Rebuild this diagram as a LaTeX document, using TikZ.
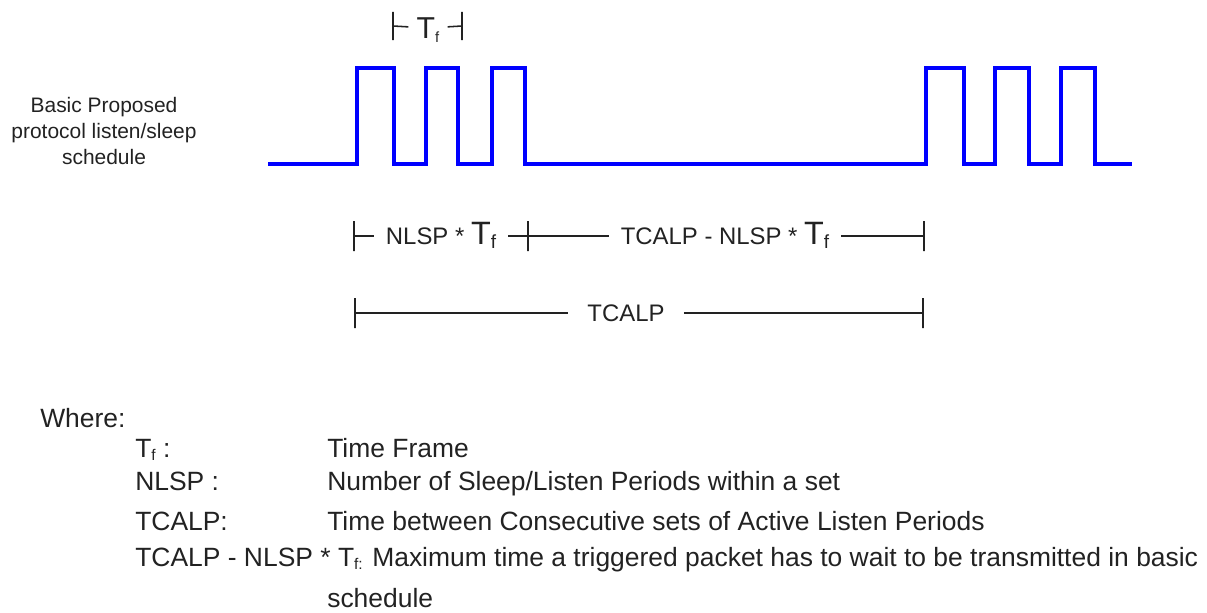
\documentclass[tikz,border=0pt]{standalone}
\usepackage{fontspec}
\setmainfont{Liberation Sans}
\definecolor{pulseblue}{HTML}{0000FF}
\definecolor{ink}{HTML}{222222}
\newcommand{\tsub}[3]{{\fontsize{#1}{#1}\selectfont T}\raisebox{-0.15em}{\fontsize{#2}{#2}\selectfont #3}}

\begin{document}
\begin{tikzpicture}[x=0.025cm,y=-0.025cm,
  pulse/.style={draw=pulseblue,line width=2.3pt},
  tickmark/.style={draw=ink,line width=1.5pt,minimum width=0pt,minimum height=0.75cm,inner sep=0pt},
  span/.style={draw=ink,line width=1.1pt},
  dim/.style={text=ink,inner ysep=0pt,inner xsep=0.3cm,text height=12pt,text depth=0pt,font=\fontsize{17}{20}\selectfont},
  legend/.style={text=ink,inner sep=0pt,anchor=base west,font=\fontsize{18.8}{22}\selectfont}]
\useasboundingbox (0,0) rectangle (1207,612);
\node[text=ink,align=center,font=\fontsize{14.9}{18.5}\selectfont] (sched) at (104,131) {Basic Proposed\\protocol listen/sleep\\schedule};
\draw[pulse] (268,164) \foreach \a/\b in {357/394,426/458,492/525,926/964,995/1029,1061/1095} { -- (\a,164) -- (\a,68) -- (\b,68) -- (\b,164) } -- (1132,164);
\node[tickmark,minimum height=0.7cm] (tfl) at (393,26) {};
\node[tickmark,minimum height=0.7cm] (tfr) at (462,26) {};
\node[dim,inner xsep=0.2cm,text height=15pt] (tf) at (428,28) {\tsub{21.5}{10.5}{f}};
\draw[span] (tfl) -- (tf);
\draw[span] (tf) -- (tfr);
\node[tickmark] (r1l) at (354,236) {};
\node[tickmark] (r1m) at (528,236) {};
\node[tickmark] (r1r) at (924,236) {};
\node[dim] (nlsp) at (441,236) {NLSP * \tsub{23}{13.5}{f}};
\node[dim] (wait) at (725,236) {TCALP - NLSP * \tsub{23}{13.5}{f}};
\draw[span] (r1l) -- (nlsp);
\draw[span] (nlsp) -- (r1m) -- (wait);
\draw[span] (wait) -- (r1r);
\node[tickmark] (r2l) at (355,313) {};
\node[tickmark] (r2r) at (923,313) {};
\node[dim,inner xsep=0.475cm] (tcalp) at (626,313) {TCALP};
\draw[span] (r2l) -- (tcalp) -- (r2r);
\node[legend] (where) at (40,427) {Where:};
\node[legend] (term1) at (135,457) {\tsub{18.8}{11}{f} :};
\node[legend] (term2) at (135,490) {NLSP :};
\node[legend] (term3) at (135,530) {TCALP:};
\node[legend] (term4) at (135,566) {TCALP - NLSP * \tsub{18.8}{11}{f:}};
\node[legend] (def1) at (327,457) {Time Frame};
\node[legend] (def2) at (327,490) {Number of Sleep/Listen Periods within a set};
\node[legend] (def3) at (327,530) {Time between Consecutive sets of Active Listen Periods};
\node[legend] (def4) at (372,566) {Maximum time a triggered packet has to wait to be transmitted in basic};
\node[legend] (def5) at (327,607) {schedule};
\end{tikzpicture}
\end{document}
